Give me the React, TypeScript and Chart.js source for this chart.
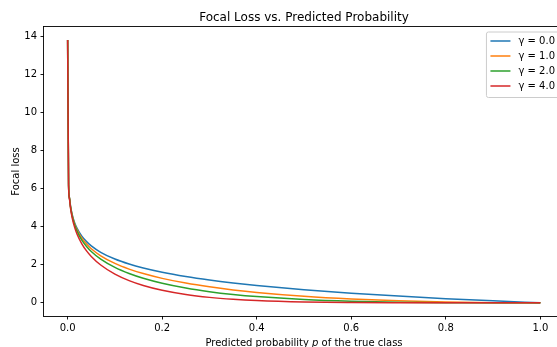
import React, { useEffect, useRef } from "react";
import { Chart, registerables } from "chart.js";

Chart.register(...registerables);

const TITLE = "Focal Loss vs. Predicted Probability";
const X_LABEL_PRE = "Predicted probability ";
const X_LABEL_ITALIC = "p";
const X_LABEL_POST = " of the true class";
const Y_LABEL = "Focal loss";

const xTicks = [0.0, 0.2, 0.4, 0.6, 0.8, 1.0];
const yTicks = [0, 2, 4, 6, 8, 10, 12, 14];

const pValues = [
  0.000001, 0.002, 0.004, 0.006, 0.01, 0.015, 0.02, 0.03, 0.04, 0.05, 0.07, 0.1,
  0.13, 0.16, 0.2, 0.25, 0.3, 0.35, 0.4, 0.5, 0.6, 0.7, 0.8, 0.9, 1.0,
];

const lossGamma0 = [
  13.8155, 6.2146, 5.5215, 5.116, 4.6052, 4.1997, 3.912, 3.5066, 3.2189, 2.9957, 2.6593, 2.3026,
  2.0402, 1.8326, 1.6094, 1.3863, 1.204, 1.0498, 0.9163, 0.6931, 0.5108, 0.3567, 0.2231, 0.1054, 0.0,
];
const lossGamma1 = [
  13.8155, 6.2022, 5.4994, 5.0853, 4.5591, 4.1367, 3.8338, 3.4014, 3.0901, 2.8459, 2.4731, 2.0723,
  1.775, 1.5394, 1.2875, 1.0397, 0.8428, 0.6824, 0.5498, 0.3466, 0.2043, 0.107, 0.0446, 0.0105, 0.0,
];
const lossGamma2 = [
  13.8155, 6.1898, 5.4774, 5.0548, 4.5135, 4.0747, 3.7571, 3.2994, 2.9665, 2.7036, 2.3, 1.8651,
  1.5443, 1.2931, 1.03, 0.7798, 0.59, 0.4436, 0.3299, 0.1733, 0.0817, 0.0321, 0.0089, 0.0011, 0.0,
];
const lossGamma4 = [
  13.8155, 6.1651, 5.4337, 4.9943, 4.4237, 3.9534, 3.6083, 3.1044, 2.7339, 2.44, 1.9893, 1.5107,
  1.1689, 0.9124, 0.6592, 0.4386, 0.2891, 0.1874, 0.1188, 0.0433, 0.0131, 0.0029, 0.0004, 0.0, 0.0,
];

const seriesLabels = ["γ = 0.0", "γ = 1.0", "γ = 2.0", "γ = 4.0"];
const seriesValues = [lossGamma0, lossGamma1, lossGamma2, lossGamma4];
const seriesColors = ["#1f77b4", "#ff7f0e", "#2ca02c", "#d62728"];

const FONT = "'DejaVu Sans', 'Liberation Sans', sans-serif";

const decorPlugin = {
  id: "mplDecor",
  afterDraw(chart: any) {
    const ctx = chart.ctx as CanvasRenderingContext2D;
    const a = chart.chartArea;
    ctx.save();
    // spines
    ctx.strokeStyle = "#000";
    ctx.lineWidth = 0.9;
    ctx.strokeRect(Math.round(a.left) - 0.5, Math.round(a.top) - 0.5, Math.round(a.right - a.left) + 1, Math.round(a.bottom - a.top) + 1);

    const cx = (a.left + a.right) / 2;
    // title
    ctx.fillStyle = "#000";
    ctx.font = `12px ${FONT}`;
    ctx.textAlign = "center";
    ctx.textBaseline = "alphabetic";
    ctx.fillText(TITLE, cx, a.top - 6);

    // x label
    ctx.font = `10px ${FONT}`;
    const w1 = ctx.measureText(X_LABEL_PRE).width;
    const w3 = ctx.measureText(X_LABEL_POST).width;
    ctx.font = `italic 10px ${FONT}`;
    const w2 = ctx.measureText(X_LABEL_ITALIC).width;
    const total = w1 + w2 + w3;
    let x0 = cx - total / 2;
    const yl = a.bottom + 30.3;
    ctx.textAlign = "left";
    ctx.font = `10px ${FONT}`;
    ctx.fillText(X_LABEL_PRE, x0, yl);
    ctx.font = `italic 10px ${FONT}`;
    ctx.fillText(X_LABEL_ITALIC, x0 + w1, yl);
    ctx.font = `10px ${FONT}`;
    ctx.fillText(X_LABEL_POST, x0 + w1 + w2, yl);

    // y label
    ctx.save();
    ctx.translate(18.5, (a.top + a.bottom) / 2);
    ctx.rotate(-Math.PI / 2);
    ctx.textAlign = "center";
    ctx.textBaseline = "alphabetic";
    ctx.fillText(Y_LABEL, 0, 0);
    ctx.restore();

    // legend
    ctx.font = `10px ${FONT}`;
    let tw = 0;
    seriesLabels.forEach((l) => (tw = Math.max(tw, ctx.measureText(l).width)));
    const lw = 4 + 20 + 8 + tw + 4;
    const lx = a.right - 5 - lw;
    const ly = a.top + 5;
    const lh = 4 + 15 * seriesLabels.length + 1.5;
    const r = 2;
    ctx.beginPath();
    ctx.moveTo(lx + r, ly);
    ctx.lineTo(lx + lw - r, ly);
    ctx.arcTo(lx + lw, ly, lx + lw, ly + r, r);
    ctx.lineTo(lx + lw, ly + lh - r);
    ctx.arcTo(lx + lw, ly + lh, lx + lw - r, ly + lh, r);
    ctx.lineTo(lx + r, ly + lh);
    ctx.arcTo(lx, ly + lh, lx, ly + lh - r, r);
    ctx.lineTo(lx, ly + r);
    ctx.arcTo(lx, ly, lx + r, ly, r);
    ctx.closePath();
    ctx.fillStyle = "rgba(255,255,255,0.8)";
    ctx.fill();
    ctx.strokeStyle = "#cccccc";
    ctx.lineWidth = 1;
    ctx.stroke();
    seriesLabels.forEach((l, i) => {
      const yy = ly + 9 + i * 15;
      ctx.strokeStyle = seriesColors[i];
      ctx.lineWidth = 1.5;
      ctx.beginPath();
      ctx.moveTo(lx + 4, yy);
      ctx.lineTo(lx + 24, yy);
      ctx.stroke();
      ctx.fillStyle = "#000";
      ctx.textAlign = "left";
      ctx.textBaseline = "middle";
      ctx.fillText(l, lx + 32, yy);
    });
    ctx.restore();
  },
};

export default function App() {
  const ref = useRef<HTMLCanvasElement | null>(null);
  useEffect(() => {
    document.body.style.margin = "0";
    if (!ref.current) return;
    const datasets = seriesValues.map((vals, i) => ({
      label: seriesLabels[i],
      data: pValues.map((p, j) => ({ x: p, y: vals[j] })),
      borderColor: seriesColors[i],
      backgroundColor: seriesColors[i],
      borderWidth: 1.5,
      pointRadius: 0,
      fill: false,
      cubicInterpolationMode: "monotone" as const,
      order: seriesLabels.length - 1 - i,
    }));
    const chart = new Chart(ref.current, {
      type: "line",
      data: { datasets },
      plugins: [decorPlugin],
      options: {
        animation: false,
        responsive: false,
        maintainAspectRatio: false,
        layout: { padding: { left: 0, top: 27, right: 36, bottom: 0 } },
        plugins: { legend: { display: false }, title: { display: false }, tooltip: { enabled: false } },
        scales: {
          x: {
            type: "linear",
            min: -0.05,
            max: 1.05,
            afterBuildTicks: (s: any) => {
              s.ticks = xTicks.map((v) => ({ value: v }));
            },
            afterFit: (s: any) => {
              s.height = 31;
            },
            border: { display: false },
            grid: { drawOnChartArea: false, drawTicks: true, tickLength: 3.5, color: "#000", lineWidth: 0.9 },
            ticks: {
              padding: 3,
              color: "#000",
              maxRotation: 0,
              autoSkip: false,
              font: { family: FONT, size: 10 },
              callback: (v: any) => Number(v).toFixed(1),
            },
          },
          y: {
            type: "linear",
            min: -0.69,
            max: 14.5,
            afterBuildTicks: (s: any) => {
              s.ticks = yTicks.map((v) => ({ value: v }));
            },
            afterFit: (s: any) => {
              s.width = 44;
            },
            border: { display: false },
            grid: { drawOnChartArea: false, drawTicks: true, tickLength: 3.5, color: "#000", lineWidth: 0.9 },
            ticks: {
              padding: 3.5,
              color: "#000",
              autoSkip: false,
              font: { family: FONT, size: 10 },
              callback: (v: any) => String(v),
            },
          },
        },
      },
    });
    return () => chart.destroy();
  }, []);
  return (
    <div style={{ position: "fixed", left: 0, top: 0, width: 557, height: 347, overflow: "hidden", background: "#fff" }}>
      <canvas ref={ref} width={600} height={347} style={{ width: 600, height: 347, display: "block" }} />
    </div>
  );
}
